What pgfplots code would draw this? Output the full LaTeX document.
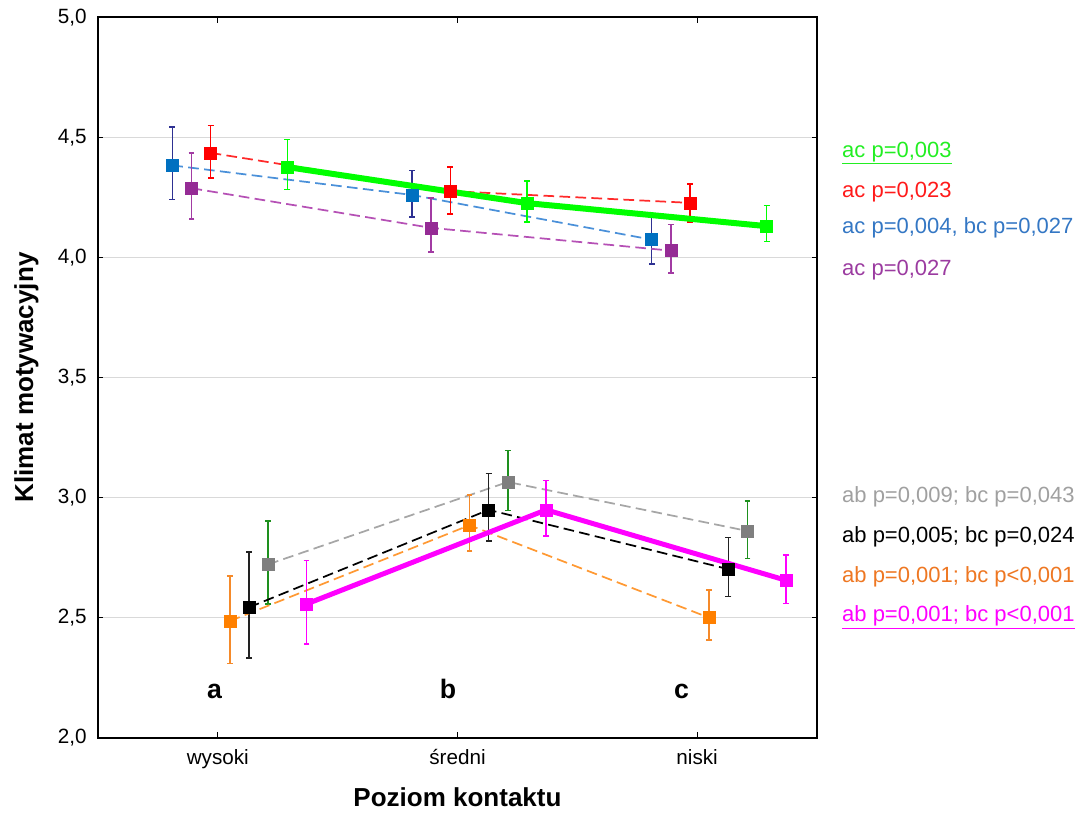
\documentclass[border=0pt]{standalone}
\usepackage{pgfplots}
\pgfplotsset{compat=1.18}
\usepackage{fontspec}
\setmainfont{Liberation Sans}
\definecolor{cgreen}{HTML}{00FF00}
\definecolor{cred}{HTML}{FF0000}
\definecolor{credline}{HTML}{FF2A2A}
\definecolor{cblue}{HTML}{0070C0}
\definecolor{cblueline}{HTML}{4A90D9}
\definecolor{cblueerr}{HTML}{2E3192}
\definecolor{cpurple}{HTML}{952B95}
\definecolor{cpurpleline}{HTML}{B550B5}
\definecolor{cpurpleerr}{HTML}{A23BA3}
\definecolor{corange}{HTML}{FF8000}
\definecolor{corangeline}{HTML}{FF9933}
\definecolor{corangeerr}{HTML}{F58A2A}
\definecolor{cblack}{HTML}{000000}
\definecolor{cblackerr}{HTML}{222222}
\definecolor{cgray}{HTML}{7F7F7F}
\definecolor{cgrayline}{HTML}{A6A6A6}
\definecolor{cgrayerr}{HTML}{1E901E}
\definecolor{cmagenta}{HTML}{FF00FF}
\definecolor{gridgray}{HTML}{D9D9D9}
\definecolor{tgreen}{HTML}{22EE22}
\definecolor{tred}{HTML}{FF1A1A}
\definecolor{tblue}{HTML}{3477C4}
\definecolor{tpurple}{HTML}{9B3BA0}
\definecolor{tgray}{HTML}{A0A0A0}
\definecolor{torange}{HTML}{EE7722}
\begin{document}
\begin{tikzpicture}
\begin{axis}[
  scale only axis, width=539.25pt, height=540.45pt,
  xmin=-0.5, xmax=2.5, ymin=2, ymax=5,
  xtick={0,1,2}, xticklabels={wysoki, średni, niski},
  ytick={2,2.5,3,3.5,4,4.5,5},
  ymajorgrids, grid style={color=gridgray, line width=1pt},
  tick align=inside, major tick length=4pt,
  tick style={line width=0.9pt, color=black},
  axis line style={line width=1.1pt},
  clip=false,
  ticklabel style={font=\fontsize{15.5}{18}\selectfont},
  yticklabel style={xshift=-5pt},
  xticklabel style={yshift=-5pt},
  xlabel={Poziom kontaktu}, ylabel={Klimat motywacyjny},
  xlabel style={font=\bfseries\fontsize{19.5}{23}\selectfont, at={(axis description cs:0.5,-0.095)}, anchor=base},
  ylabel style={font=\bfseries\fontsize{19.5}{23}\selectfont, at={(axis description cs:-0.0904,0.5)}, anchor=base, rotate=0},
  /pgf/number format/use comma,
  /pgf/number format/fixed,
  /pgf/number format/fixed zerofill,
  /pgf/number format/precision=1,
  /pgf/number format/assume math mode=true,
  error bars/y dir=both, error bars/y explicit,
  mk/.style={mark=square*, mark size=4.5pt, mark options={solid, fill=#1, draw=#1, line width=0.3pt}},
  eb/.style={error bars/error bar style={solid, line width=1.1pt, color=#1},
             error bars/error mark options={rotate=90, mark size=2.2pt, line width=1.1pt, color=#1}},
  dl/.style={dash pattern=on 8pt off 4pt, line width=1.3pt},
]
% blue
\addplot[color=cblueline, dl, mk=cblue, eb=cblueerr] coordinates {
  (-0.19,4.383) += (0,0.160) -= (0,0.143)
  (0.81,4.260) += (0,0.102) -= (0,0.092)
  (1.81,4.074) += (0,0.100) -= (0,0.101)
};
% purple
\addplot[color=cpurpleline, dl, mk=cpurple, eb=cpurpleerr] coordinates {
  (-0.11,4.288) += (0,0.147) -= (0,0.128)
  (0.89,4.123) += (0,0.125) -= (0,0.101)
  (1.89,4.028) += (0,0.109) -= (0,0.093)
};
% red
\addplot[color=credline, dl, mk=cred, eb=cred] coordinates {
  (-0.03,4.435) += (0,0.114) -= (0,0.104)
  (0.97,4.276) += (0,0.100) -= (0,0.095)
  (1.97,4.227) += (0,0.079) -= (0,0.079)
};
% green
\addplot[color=cgreen, solid, line width=4.5pt, mk=cgreen, eb=cgreen] coordinates {
  (0.29,4.376) += (0,0.115) -= (0,0.093)
  (1.29,4.226) += (0,0.092) -= (0,0.079)
  (2.29,4.130) += (0,0.086) -= (0,0.064)
};
% gray
\addplot[color=cgrayline, dl, mk=cgray, eb=cgrayerr] coordinates {
  (0.21,2.722) += (0,0.180) -= (0,0.165)
  (1.21,3.065) += (0,0.130) -= (0,0.118)
  (2.21,2.861) += (0,0.125) -= (0,0.114)
};
% black
\addplot[color=cblack, dl, mk=cblack, eb=cblackerr] coordinates {
  (0.13,2.543) += (0,0.231) -= (0,0.210)
  (1.13,2.949) += (0,0.151) -= (0,0.129)
  (2.13,2.702) += (0,0.131) -= (0,0.113)
};
% orange
\addplot[color=corangeline, dl, mk=corange, eb=corangeerr] coordinates {
  (0.05,2.486) += (0,0.188) -= (0,0.176)
  (1.05,2.885) += (0,0.125) -= (0,0.107)
  (2.05,2.500) += (0,0.115) -= (0,0.093)
};
% magenta
\addplot[color=cmagenta, solid, line width=3.75pt, mk=cmagenta, eb=cmagenta] coordinates {
  (0.37,2.557) += (0,0.181) -= (0,0.167)
  (1.37,2.949) += (0,0.123) -= (0,0.109)
  (2.37,2.656) += (0,0.105) -= (0,0.096)
};
% a b c
\node[font=\bfseries\fontsize{20}{24}\selectfont, anchor=base] at (axis cs:-0.014,2.162) {a};
\node[font=\bfseries\fontsize{20}{24}\selectfont, anchor=base] at (axis cs:0.96,2.162) {b};
\node[font=\bfseries\fontsize{20}{24}\selectfont, anchor=base] at (axis cs:1.935,2.162) {c};
% annotations
\begin{scope}[every node/.style={anchor=base west, inner sep=0pt, font=\fontsize{16.5}{19}\selectfont}]
\node[text=tgreen] at (axis cs:2.604,4.417) {\underline{ac p=0,003}};
\node[text=tred] at (axis cs:2.604,4.251) {ac p=0,023};
\node[text=tblue] at (axis cs:2.604,4.098) {ac p=0,004, bc p=0,027};
\node[text=tpurple] at (axis cs:2.604,3.924) {ac p=0,027};
\node[text=tgray] at (axis cs:2.604,2.979) {ab p=0,009; bc p=0,043};
\node[text=black] at (axis cs:2.604,2.812) {ab p=0,005; bc p=0,024};
\node[text=torange] at (axis cs:2.604,2.646) {ab p=0,001; bc p<0,001};
\node[text=cmagenta] at (axis cs:2.604,2.483) {\underline{ab p=0,001; bc p<0,001}};
\end{scope}
\end{axis}
\pgfresetboundingbox
\path[use as bounding box] (-73.5pt,-56.4pt) rectangle (743.25pt,553.35pt);
\end{tikzpicture}
\end{document}
